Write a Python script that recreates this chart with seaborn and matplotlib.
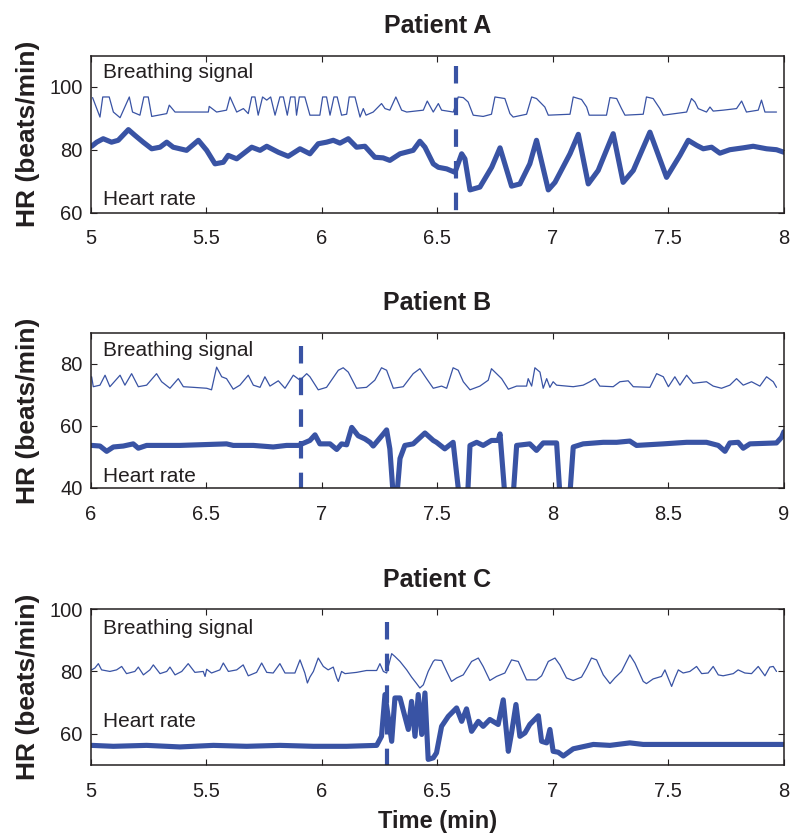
import matplotlib
matplotlib.use("Agg")
import matplotlib.pyplot as plt
import seaborn as sns

# ---- Patient A (time in min, values in beats/min) ----
a_breath_t = [5.007, 5.039, 5.051, 5.079, 5.097, 5.126, 5.166, 5.180, 5.212, 5.229,
              5.248, 5.263, 5.328, 5.339, 5.364, 5.508, 5.512, 5.544, 5.587, 5.602,
              5.631, 5.660, 5.681, 5.696, 5.710, 5.724, 5.743, 5.761, 5.778, 5.797,
              5.818, 5.833, 5.850, 5.864, 5.883, 5.890, 5.902, 5.926, 5.948, 5.991,
              6.003, 6.020, 6.035, 6.052, 6.066, 6.085, 6.107, 6.118, 6.143, 6.165,
              6.179, 6.191, 6.222, 6.258, 6.273, 6.294, 6.320, 6.345, 6.367, 6.439,
              6.456, 6.482, 6.504, 6.518, 6.569, 6.590, 6.612, 6.633, 6.655, 6.698,
              6.734, 6.749, 6.792, 6.814, 6.828, 6.886, 6.908, 6.929, 6.965, 6.980,
              7.074, 7.088, 7.124, 7.146, 7.157, 7.232, 7.247, 7.276, 7.297, 7.312,
              7.391, 7.405, 7.434, 7.463, 7.478, 7.579, 7.600, 7.615, 7.629, 7.665,
              7.680, 7.694, 7.737, 7.795, 7.817, 7.838, 7.889, 7.903, 7.918, 7.968]
a_breath_v = [96.6, 90.4, 96.8, 96.8, 92.0, 90.2, 96.8, 92.0, 91.0, 96.8,
              96.8, 90.6, 91.5, 94.2, 92.0, 92.0, 93.8, 92.0, 92.6, 96.8,
              92.0, 93.1, 91.5, 96.8, 96.8, 91.0, 96.8, 95.8, 96.8, 91.0,
              96.8, 96.8, 91.0, 96.8, 96.8, 91.0, 96.8, 96.8, 91.0, 91.0,
              96.8, 96.8, 91.0, 96.8, 96.8, 91.0, 91.3, 96.8, 96.8, 90.4,
              93.1, 91.0, 92.0, 94.7, 93.1, 92.6, 96.8, 92.6, 92.0, 92.6,
              95.5, 92.0, 94.7, 92.6, 92.0, 96.8, 96.6, 95.2, 91.0, 90.6,
              91.3, 96.8, 96.3, 91.5, 90.4, 91.3, 96.8, 96.3, 93.6, 91.0,
              91.3, 96.8, 96.0, 93.6, 91.0, 91.0, 96.6, 96.3, 93.1, 91.0,
              91.3, 96.8, 96.3, 93.1, 91.0, 92.0, 96.3, 95.2, 93.1, 92.0,
              93.6, 92.3, 92.6, 93.1, 95.5, 92.0, 92.6, 95.8, 92.0, 92.0]
a_hr_t = [5.003, 5.025, 5.053, 5.089, 5.118, 5.162, 5.190, 5.226, 5.263, 5.299,
          5.328, 5.356, 5.414, 5.465, 5.501, 5.537, 5.573, 5.594, 5.631, 5.659,
          5.696, 5.732, 5.761, 5.811, 5.854, 5.905, 5.948, 5.984, 6.020, 6.049,
          6.078, 6.114, 6.150, 6.186, 6.229, 6.265, 6.294, 6.338, 6.395, 6.424,
          6.446, 6.482, 6.504, 6.540, 6.576, 6.605, 6.619, 6.641, 6.684, 6.735,
          6.771, 6.821, 6.857, 6.900, 6.929, 6.980, 7.009, 7.074, 7.110, 7.153,
          7.196, 7.261, 7.304, 7.348, 7.420, 7.492, 7.550, 7.586, 7.622, 7.651,
          7.687, 7.723, 7.766, 7.824, 7.867, 7.925, 7.968, 8.000]
a_hr_v = [81.1, 82.4, 83.5, 82.4, 83.0, 86.4, 84.6, 82.4, 80.3, 80.8,
          82.4, 80.8, 79.8, 83.0, 79.8, 75.5, 76.0, 78.2, 77.1, 78.7,
          80.8, 79.8, 81.1, 79.2, 77.9, 80.3, 78.7, 81.9, 82.4, 83.0,
          82.1, 83.5, 80.8, 81.1, 77.6, 77.4, 76.6, 78.7, 79.8, 82.7,
          80.8, 75.5, 74.4, 73.9, 72.8, 78.7, 77.1, 67.2, 68.1, 74.4,
          80.6, 68.4, 69.1, 75.5, 83.0, 67.2, 69.6, 78.7, 84.9, 69.1,
          73.4, 85.1, 69.6, 73.4, 85.6, 71.2, 78.2, 83.0, 81.4, 80.3,
          80.8, 78.9, 80.0, 80.6, 81.1, 80.3, 80.0, 79.2]

# ---- Patient B ----
b_breath_t = [6.003, 6.010, 6.039, 6.061, 6.082, 6.126, 6.147, 6.176, 6.205, 6.241,
              6.284, 6.306, 6.342, 6.378, 6.400, 6.443, 6.501, 6.522, 6.544, 6.566,
              6.587, 6.616, 6.645, 6.681, 6.703, 6.732, 6.753, 6.775, 6.811, 6.840,
              6.876, 6.905, 6.934, 6.948, 6.984, 7.020, 7.071, 7.092, 7.114, 7.150,
              7.193, 7.229, 7.258, 7.280, 7.309, 7.352, 7.395, 7.424, 7.453, 7.482,
              7.518, 7.540, 7.568, 7.590, 7.612, 7.641, 7.684, 7.720, 7.734, 7.756,
              7.778, 7.807, 7.843, 7.886, 7.893, 7.908, 7.922, 7.944, 7.958, 7.973,
              7.987, 8.001, 8.016, 8.088, 8.131, 8.160, 8.182, 8.203, 8.261, 8.290,
              8.326, 8.348, 8.420, 8.449, 8.478, 8.500, 8.528, 8.550, 8.579, 8.607,
              8.665, 8.694, 8.730, 8.766, 8.795, 8.824, 8.860, 8.896, 8.925, 8.954,
              8.968]
b_breath_v = [75.8, 72.6, 73.1, 76.3, 72.6, 76.3, 73.1, 76.8, 72.6, 73.1,
              76.8, 74.2, 72.1, 75.2, 72.6, 72.4, 72.1, 71.6, 78.9, 75.8,
              75.2, 71.8, 73.1, 76.3, 73.1, 72.4, 75.8, 72.8, 74.5, 72.1,
              76.3, 74.7, 76.8, 75.8, 71.6, 72.4, 77.9, 78.7, 77.3, 72.1,
              72.4, 74.7, 78.7, 77.9, 72.1, 72.6, 76.8, 78.4, 75.2, 72.1,
              72.8, 72.1, 78.7, 77.9, 74.2, 71.6, 72.8, 74.7, 78.4, 76.8,
              75.2, 71.8, 72.8, 72.8, 75.2, 72.8, 78.7, 77.3, 72.1, 75.2,
              72.4, 74.2, 73.1, 72.6, 73.1, 74.2, 75.2, 72.8, 72.6, 74.2,
              74.5, 72.6, 72.4, 76.8, 75.8, 72.6, 75.8, 73.1, 76.3, 73.7,
              74.2, 72.8, 72.1, 73.1, 75.2, 73.1, 74.2, 72.8, 75.8, 74.2,
              72.4]
b_hr_t = [6.003, 6.039, 6.068, 6.097, 6.140, 6.183, 6.205, 6.241, 6.385, 6.587,
          6.616, 6.703, 6.789, 6.847, 6.898, 6.948, 6.970, 6.991, 7.035, 7.064,
          7.085, 7.107, 7.129, 7.157, 7.186, 7.208, 7.222, 7.266, 7.280, 7.294,
          7.316, 7.338, 7.359, 7.395, 7.446, 7.482, 7.496, 7.532, 7.568, 7.605,
          7.626, 7.641, 7.670, 7.698, 7.734, 7.763, 7.771, 7.800, 7.821, 7.843,
          7.900, 7.929, 7.958, 8.016, 8.037, 8.066, 8.088, 8.131, 8.218, 8.276,
          8.333, 8.362, 8.478, 8.579, 8.665, 8.716, 8.745, 8.766, 8.802, 8.824,
          8.853, 8.968, 8.990, 9.000]
b_hr_v = [53.7, 53.5, 51.8, 53.2, 53.5, 54.2, 52.8, 53.7, 53.7, 54.2,
          53.7, 53.7, 53.2, 53.7, 53.7, 55.3, 57.1, 54.2, 54.2, 52.4,
          54.2, 53.9, 59.5, 56.8, 55.8, 54.7, 53.5, 57.4, 58.7, 52.6,
          30.0, 49.5, 53.7, 54.2, 57.7, 55.3, 54.7, 52.6, 54.7, 30.0,
          30.0, 53.7, 54.7, 53.7, 55.3, 55.3, 57.4, 30.0, 30.0, 53.7,
          54.2, 52.1, 54.5, 54.5, 30.0, 30.0, 53.2, 54.2, 54.7, 54.7,
          55.1, 53.7, 54.2, 54.7, 54.7, 53.7, 51.8, 54.5, 54.7, 52.8,
          54.2, 54.5, 56.3, 58.1]

# ---- Patient C ----
c_breath_t = [5.003, 5.017, 5.032, 5.046, 5.082, 5.111, 5.133, 5.154, 5.190, 5.205,
              5.227, 5.255, 5.270, 5.299, 5.328, 5.342, 5.364, 5.393, 5.421, 5.450,
              5.486, 5.494, 5.501, 5.522, 5.558, 5.573, 5.595, 5.631, 5.659, 5.681,
              5.717, 5.739, 5.761, 5.789, 5.818, 5.840, 5.883, 5.905, 5.926, 5.937,
              5.948, 5.963, 5.984, 6.006, 6.027, 6.049, 6.064, 6.071, 6.085, 6.100,
              6.150, 6.193, 6.237, 6.251, 6.266, 6.280, 6.302, 6.316, 6.338, 6.367,
              6.388, 6.410, 6.424, 6.439, 6.460, 6.482, 6.489, 6.518, 6.540, 6.561,
              6.583, 6.612, 6.648, 6.677, 6.698, 6.727, 6.756, 6.792, 6.821, 6.850,
              6.886, 6.929, 6.951, 6.980, 7.009, 7.030, 7.059, 7.088, 7.124, 7.146,
              7.167, 7.189, 7.218, 7.247, 7.268, 7.297, 7.333, 7.355, 7.391, 7.405,
              7.434, 7.470, 7.485, 7.499, 7.514, 7.528, 7.543, 7.564, 7.593, 7.622,
              7.644, 7.672, 7.694, 7.716, 7.737, 7.781, 7.802, 7.831, 7.860, 7.889,
              7.918, 7.939, 7.954, 7.968]
c_breath_v = [80.5, 81.1, 82.5, 80.5, 80.0, 80.5, 81.6, 79.3, 80.0, 81.4,
              78.9, 80.5, 82.1, 79.3, 80.0, 81.4, 78.9, 80.0, 82.5, 79.7,
              80.0, 78.4, 80.7, 79.5, 80.5, 82.7, 80.0, 80.5, 82.1, 78.6,
              79.7, 82.7, 79.7, 79.5, 82.5, 79.5, 79.5, 83.7, 79.5, 76.3,
              78.2, 80.0, 84.3, 81.6, 80.5, 81.4, 77.9, 76.8, 80.0, 79.3,
              79.7, 80.3, 80.3, 82.5, 80.0, 79.5, 85.7, 84.8, 83.2, 80.5,
              78.2, 76.1, 74.7, 75.7, 80.0, 83.2, 83.7, 83.5, 80.0, 76.8,
              77.9, 78.9, 83.2, 84.3, 81.6, 77.1, 78.4, 79.5, 83.7, 83.2,
              77.3, 77.3, 78.6, 83.2, 84.3, 82.1, 77.9, 77.1, 78.2, 81.1,
              84.3, 83.7, 78.9, 76.1, 77.9, 80.0, 85.3, 82.7, 76.8, 76.1,
              77.6, 78.4, 80.5, 77.9, 75.2, 77.9, 80.5, 79.5, 80.0, 81.6,
              79.3, 79.5, 81.6, 78.9, 78.6, 79.3, 80.5, 79.5, 79.3, 81.6,
              78.6, 81.4, 81.6, 80.0]
c_hr_t = [5.003, 5.097, 5.241, 5.385, 5.530, 5.674, 5.818, 5.963, 6.107, 6.237,
          6.258, 6.273, 6.302, 6.316, 6.338, 6.374, 6.388, 6.403, 6.417, 6.432,
          6.446, 6.460, 6.482, 6.496, 6.518, 6.547, 6.583, 6.605, 6.626, 6.648,
          6.677, 6.698, 6.727, 6.763, 6.785, 6.807, 6.821, 6.840, 6.857, 6.879,
          6.900, 6.937, 6.951, 6.973, 6.987, 7.001, 7.023, 7.045, 7.088, 7.175,
          7.247, 7.333, 7.391, 7.622, 7.911, 8.000]
c_hr_v = [56.3, 56.0, 56.3, 55.8, 56.3, 56.0, 56.3, 56.0, 56.0, 56.3,
          59.2, 72.6, 57.6, 71.5, 71.5, 61.4, 70.4, 59.2, 72.6, 59.8,
          73.1, 51.8, 52.3, 53.9, 62.4, 65.6, 68.3, 64.0, 68.0, 60.8,
          64.0, 62.4, 64.6, 63.0, 70.9, 54.4, 60.3, 69.4, 59.2, 60.3,
          63.0, 65.8, 57.6, 57.1, 61.4, 54.4, 54.1, 52.9, 55.2, 56.6,
          56.3, 57.1, 56.6, 56.6, 56.6, 56.6]

# event onset (min) and top of the dashed marker
event_t = [6.58, 6.91, 6.28]
event_top = [106.6, 85.8, 95.9]

titles = ["Patient A", "Patient B", "Patient C"]
xlims = [(5, 8), (6, 9), (5, 8)]
ylims = [(60, 110), (40, 90), (50, 100)]
xticks = [[5, 5.5, 6, 6.5, 7, 7.5, 8], [6, 6.5, 7, 7.5, 8, 8.5, 9], [5, 5.5, 6, 6.5, 7, 7.5, 8]]
xticklabels = [["5", "5.5", "6", "6.5", "7", "7.5", "8"],
               ["6", "6.5", "7", "7.5", "8", "8.5", "9"],
               ["5", "5.5", "6", "6.5", "7", "7.5", "8"]]
yticks = [[60, 80, 100], [40, 60, 80], [60, 80, 100]]

blue = "#3953a4"
txt = "#231f20"

sns.set_style("ticks")
plt.rcParams["font.family"] = ["Liberation Sans", "DejaVu Sans"]
plt.rcParams["text.color"] = txt
plt.rcParams["axes.labelcolor"] = txt

fig = plt.figure(figsize=(7.91, 8.35), dpi=100)
boxes = [[0.115, 0.7455, 0.876, 0.188],
         [0.115, 0.4156, 0.876, 0.186],
         [0.115, 0.0838, 0.876, 0.1868]]
hr_label_y = [0.08, 0.071, 0.282]
br_label_y = [0.89, 0.882, 0.878]

data = [(a_breath_t, a_breath_v, a_hr_t, a_hr_v),
        (b_breath_t, b_breath_v, b_hr_t, b_hr_v),
        (c_breath_t, c_breath_v, c_hr_t, c_hr_v)]

for i in range(3):
    ax = fig.add_axes(boxes[i])
    bt, bv, ht, hv = data[i]
    sns.lineplot(x=bt, y=bv, ax=ax, color=blue, linewidth=0.9, estimator=None)
    sns.lineplot(x=ht, y=hv, ax=ax, color=blue, linewidth=3.7, estimator=None,
                 solid_joinstyle="round", solid_capstyle="round")
    ax.plot([event_t[i], event_t[i]], [event_top[i], ylims[i][0]], color=blue,
            linewidth=3.0, dashes=(4.2, 3.4), dash_capstyle="butt")
    ax.set_xlim(*xlims[i])
    ax.set_ylim(*ylims[i])
    ax.set_xticks(xticks[i])
    ax.set_xticklabels(xticklabels[i])
    ax.set_yticks(yticks[i])
    for s in ax.spines.values():
        s.set_visible(True)
        s.set_color(txt)
        s.set_linewidth(1.1)
    ax.tick_params(direction="in", top=True, right=True, length=4.5, width=0.8,
                   colors=txt, labelsize=14.5)
    ax.tick_params(axis="x", pad=12)
    ax.tick_params(axis="y", pad=6)
    ax.set_title(titles[i], fontsize=18, fontweight="bold", pad=16, color=txt)
    ax.set_ylabel("HR (beats/min)", fontsize=19, fontweight="bold")
    ax.yaxis.set_label_coords(-0.074, 0.5)
    ax.set_xlabel("")
    ax.text(0.017, br_label_y[i], "Breathing signal", transform=ax.transAxes,
            fontsize=15, ha="left", va="center", color=txt)
    ax.text(0.017, hr_label_y[i], "Heart rate", transform=ax.transAxes,
            fontsize=15, ha="left", va="center", color=txt)
    if i == 2:
        ax.set_xlabel("Time (min)", fontsize=17, fontweight="bold")
        ax.xaxis.set_label_coords(0.5, -0.29)

fig.savefig("out.png", dpi=100)
